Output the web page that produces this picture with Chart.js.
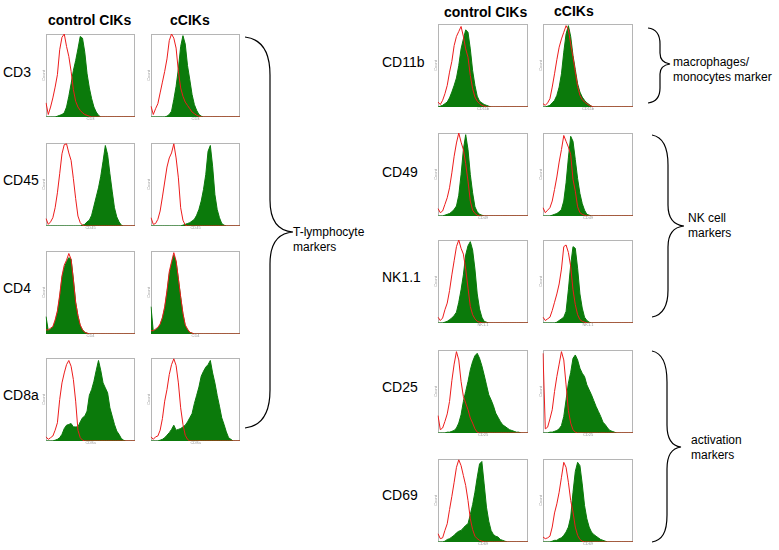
<!DOCTYPE html>
<html>
<head>
<meta charset="utf-8">
<title>control CIKs vs cCIKs - surface markers</title>
<script src="https://cdn.jsdelivr.net/npm/chart.js@4.4.1/dist/chart.umd.min.js"></script>
<style>
  body { margin: 0; background: #fff; width: 779px; height: 550px; position: relative; overflow: hidden;
         font-family: "Liberation Sans", Arial, sans-serif; color: #000; }
  .txt { position: absolute; white-space: nowrap; line-height: 1; transform: translateY(-50%); }
  .head { font-weight: bold; font-size: 14px; }
  .row { font-size: 14px; }
  .note { font-size: 12px; line-height: 15px; transform: translateY(-25%); }
  .panel { position: absolute; }
  svg { position: absolute; left: 0; top: 0; }
</style>
</head>
<body>

<script>
// HISTOGRAM BINS (log fluorescence channel, 40 bins)
const bins = [0,1,2,3,4,5,6,7,8,9,10,11,12,13,14,15,16,17,18,19,
              20,21,22,23,24,25,26,27,28,29,30,31,32,33,34,35,36,37,38,39];

// T-LYMPHOCYTE MARKERS (% of max count) - iso = isotype control (red), stain = marker (green)
const cd3CtrlIso    = [17,3,12,23,36,51,81,96,100,85,73,55,33,19,12,8,5,3,2,1, 0,0,0,0,0,0,0,0,0,0, 0,0,0,0,0,0,0,0,0,0];
const cd3CtrlStain  = [0,0,0,0,0,1,2,3,5,12,25,40,56,68,82,97,95,78,52,35, 22,12,6,2,0,0,0,0,0,0, 0,0,0,0,0,0,0,0,0,0];
const cd3CikIso     = [13,3,10,16,29,42,55,70,92,100,95,83,55,35,25,18,14,10,6,4, 2,1,0,0,0,0,0,0,0,0, 0,0,0,0,0,0,0,0,0,0];
const cd3CikStain   = [0,0,0,0,0,0,0,1,3,7,21,37,58,85,98,88,62,45,27,15, 8,3,1,0,0,0,0,0,0,0, 0,0,0,0,0,0,0,0,0,0];

const cd45CtrlIso   = [9,2,5,10,22,40,63,87,98,99,88,79,57,33,12,4,1,0,0,0, 0,0,0,0,0,0,0,0,0,0, 0,0,0,0,0,0,0,0,0,0];
const cd45CtrlStain = [0,0,0,0,0,0,0,0,0,0,0,0,0,0,0,0,1,2,5,7, 13,24,35,46,60,78,97,86,63,42, 22,11,5,1,0,0,0,0,0,0];
const cd45CikIso    = [10,2,3,8,18,35,53,71,82,88,99,82,58,22,7,1,0,0,0,0, 0,0,0,0,0,0,0,0,0,0, 0,0,0,0,0,0,0,0,0,0];
const cd45CikStain  = [0,0,0,0,0,0,0,0,0,0,0,0,0,0,1,2,3,4,6,8, 13,20,30,44,62,90,97,72,38,20, 10,3,1,0,0,0,0,0,0,0];

const cd4CtrlIso    = [5,5,7,9,17,28,47,70,83,89,97,90,65,38,22,11,5,2,1,0, 0,0,0,0,0,0,0,0,0,0, 0,0,0,0,0,0,0,0,0,0];
const cd4CtrlStain  = [21,4,6,8,15,26,44,68,80,87,92,90,66,38,22,10,5,2,1,0, 0,0,0,0,0,0,0,0,0,0, 0,0,0,0,0,0,0,0,0,0];
const cd4CikIso     = [4,4,6,8,12,20,33,52,75,87,98,88,67,45,25,11,6,2,1,0, 0,0,0,0,0,0,0,0,0,0, 0,0,0,0,0,0,0,0,0,0];
const cd4CikStain   = [33,3,5,7,11,19,31,50,72,85,95,87,66,44,24,10,5,2,1,0, 0,0,0,0,0,0,0,0,0,0, 0,0,0,0,0,0,0,0,0,0];

const cd8CtrlIso    = [5,2,4,6,13,22,50,70,82,92,97,90,74,48,13,4,1,0,0,0, 0,0,0,0,0,0,0,0,0,0, 0,0,0,0,0,0,0,0,0,0];
const cd8CtrlStain  = [0,0,0,0,1,2,4,8,15,19,20,21,17,17,17,23,28,30,36,55, 62,72,85,97,85,70,64,58,40,30, 20,12,8,3,1,0,0,0,0,0];
const cd8CikIso     = [5,2,5,6,13,27,48,62,80,92,99,91,70,40,20,7,2,0,0,0, 0,0,0,0,0,0,0,0,0,0, 0,0,0,0,0,0,0,0,0,0];
const cd8CikStain   = [0,0,0,0,1,2,4,7,10,14,19,13,14,15,17,19,23,28,33,45, 55,65,78,84,89,92,97,82,70,55, 42,28,20,11,4,2,0,0,0,0];

// MACROPHAGE / NK / ACTIVATION MARKERS
const cd11bCtrlIso   = [6,3,8,16,26,42,55,74,85,91,97,85,70,60,38,22,12,7,4,2, 1,0,0,0,0,0,0,0,0,0, 0,0,0,0,0,0,0,0,0,0];
const cd11bCtrlStain = [0,1,2,4,6,11,18,26,35,50,70,82,93,90,70,44,26,13,7,5, 3,2,1,0,0,0,0,0,0,0, 0,0,0,0,0,0,0,0,0,0];
const cd11bCikIso    = [4,2,5,10,24,40,57,72,82,90,98,93,76,60,42,25,14,9,6,4, 2,1,0,0,0,0,0,0,0,0, 0,0,0,0,0,0,0,0,0,0];
const cd11bCikStain  = [0,0,1,2,5,8,14,24,40,66,88,98,85,62,45,28,18,12,8,5, 3,1,0,0,0,0,0,0,0,0, 0,0,0,0,0,0,0,0,0,0];

const cd49CtrlIso    = [9,4,6,14,22,34,52,72,88,100,89,80,63,42,18,7,3,1,0,0, 0,0,0,0,0,0,0,0,0,0, 0,0,0,0,0,0,0,0,0,0];
const cd49CtrlStain  = [0,0,0,1,2,3,5,8,12,25,50,80,98,80,50,28,11,5,2,1, 0,0,0,0,0,0,0,0,0,0, 0,0,0,0,0,0,0,0,0,0];
const cd49CikIso     = [10,4,7,10,18,32,47,65,80,97,90,83,74,44,30,11,4,2,1,0, 0,0,0,0,0,0,0,0,0,0, 0,0,0,0,0,0,0,0,0,0];
const cd49CikStain   = [0,0,0,0,1,2,3,5,8,18,40,70,96,90,68,45,27,15,7,2, 1,0,0,0,0,0,0,0,0,0, 0,0,0,0,0,0,0,0,0,0];

const nk11CtrlIso    = [7,3,6,16,24,39,58,75,92,100,90,83,65,42,20,10,5,2,1,0, 0,0,0,0,0,0,0,0,0,0, 0,0,0,0,0,0,0,0,0,0];
const nk11CtrlStain  = [0,0,0,1,2,4,6,9,13,25,40,58,82,93,98,88,65,35,17,7, 2,1,0,0,0,0,0,0,0,0, 0,0,0,0,0,0,0,0,0,0];
const nk11CikIso     = [7,3,5,7,15,25,35,47,65,92,94,85,68,40,22,10,4,2,1,0, 0,0,0,0,0,0,0,0,0,0, 0,0,0,0,0,0,0,0,0,0];
const nk11CikStain   = [0,0,0,0,0,0,1,3,5,7,14,40,70,92,90,66,35,18,7,3, 1,0,0,0,0,0,0,0,0,0, 0,0,0,0,0,0,0,0,0,0];

const cd25CtrlIso    = [21,4,6,14,23,38,63,83,98,88,62,44,36,28,18,12,5,1,0,0, 0,0,0,0,0,0,0,0,0,0, 0,0,0,0,0,0,0,0,0,0];
const cd25CtrlStain  = [0,0,0,0,1,1,2,3,6,12,22,38,50,62,76,86,93,96,90,81, 70,58,46,40,33,24,19,14,10,8, 6,4,3,2,1,1,0,0,0,0];
const cd25CikIso     = [96,5,7,17,28,50,68,83,98,88,58,27,12,4,1,0,0,0,0,0, 0,0,0,0,0,0,0,0,0,0, 0,0,0,0,0,0,0,0,0,0];
const cd25CikStain   = [0,0,0,1,1,2,3,5,9,20,40,60,73,90,94,88,78,72,68,58, 52,46,39,32,26,20,13,10,6,3, 2,1,0,0,0,0,0,0,0,0];

const cd69CtrlIso    = [10,4,5,14,22,39,55,72,90,99,92,80,68,50,28,15,7,4,2,1, 0,0,0,0,0,0,0,0,0,0, 0,0,0,0,0,0,0,0,0,0];
const cd69CtrlStain  = [0,0,0,1,3,4,6,8,11,13,14,17,20,22,33,45,60,78,94,97, 70,42,25,14,9,7,6,3,2,1, 0,0,0,0,0,0,0,0,0,0];
const cd69CikIso     = [6,4,5,7,18,35,46,60,78,96,90,72,50,36,18,8,3,1,0,0, 0,0,0,0,0,0,0,0,0,0, 0,0,0,0,0,0,0,0,0,0];
const cd69CikStain   = [0,0,0,0,1,2,2,4,5,8,12,18,30,60,85,96,92,70,44,28, 18,12,9,7,5,3,2,1,0,0, 0,0,0,0,0,0,0,0,0,0];

// PANEL LAYOUT: marker, plot box left/top/width
const panels = [
    ['CD3',   46,  34, 89, cd3CtrlIso,   cd3CtrlStain],
    ['CD3',  151,  34, 89, cd3CikIso,    cd3CikStain],
    ['CD45',  46, 143, 89, cd45CtrlIso,  cd45CtrlStain],
    ['CD45', 151, 143, 89, cd45CikIso,   cd45CikStain],
    ['CD4',   46, 251, 89, cd4CtrlIso,   cd4CtrlStain],
    ['CD4',  151, 251, 89, cd4CikIso,    cd4CikStain],
    ['CD8a',  46, 358, 89, cd8CtrlIso,   cd8CtrlStain],
    ['CD8a', 151, 358, 89, cd8CikIso,    cd8CikStain],
    ['CD11b', 438,  24, 90, cd11bCtrlIso, cd11bCtrlStain],
    ['CD11b', 543,  24, 90, cd11bCikIso,  cd11bCikStain],
    ['CD49',  438, 133, 90, cd49CtrlIso,  cd49CtrlStain],
    ['CD49',  543, 133, 90, cd49CikIso,   cd49CikStain],
    ['NK1.1', 438, 240, 90, nk11CtrlIso,  nk11CtrlStain],
    ['NK1.1', 543, 240, 90, nk11CikIso,   nk11CikStain],
    ['CD25',  438, 350, 90, cd25CtrlIso,  cd25CtrlStain],
    ['CD25',  543, 350, 90, cd25CikIso,   cd25CikStain],
    ['CD69',  438, 459, 90, cd69CtrlIso,  cd69CtrlStain],
    ['CD69',  543, 459, 90, cd69CikIso,   cd69CikStain]
];
const plotHeight = 83;

// TEXT: [text, left, centerY, class]
const texts = [
    ['control CIKs', 48, 20, 'head'], ['cCIKs', 170, 20, 'head'],
    ['control CIKs', 444, 12, 'head'], ['cCIKs', 554, 11, 'head'],
    ['CD3', 3, 72, 'row'], ['CD45', 3, 180, 'row'], ['CD4', 3, 288, 'row'], ['CD8a', 3, 395, 'row'],
    ['CD11b', 382, 62, 'row'], ['CD49', 382, 172, 'row'], ['NK1.1', 382, 277, 'row'],
    ['CD25', 382, 387, 'row'], ['CD69', 382, 495, 'row'],
    ['T-lymphocyte<br>markers', 293, 232, 'note'],
    ['macrophages/<br>monocytes marker', 673, 62, 'note'],
    ['NK cell<br>markers', 688, 218, 'note'],
    ['activation<br>markers', 691, 440, 'note']
];

// frame around each plot box
const framePlugin = {
    id: 'frame',
    beforeDatasetsDraw(chart) {
        const a = chart.chartArea, ctx = chart.ctx;
        ctx.save();
        ctx.strokeStyle = '#b5b5b5';
        ctx.lineWidth = 1;
        ctx.strokeRect(Math.round(a.left) + 0.5, Math.round(a.top) + 0.5,
                       Math.round(a.right - a.left) - 1, Math.round(a.bottom - a.top) - 1);
        ctx.restore();
    }
};

function createHistogram(p){
    const [marker, left, top, w, iso, stain] = p;
    const div = document.createElement('div');
    div.className = 'panel';
    div.style.left = (left - 6) + 'px';
    div.style.top = (top - 2) + 'px';
    const canvas = document.createElement('canvas');
    canvas.width = w + 8;
    canvas.height = plotHeight + 8;
    div.appendChild(canvas);
    document.body.appendChild(div);

    new Chart(canvas.getContext('2d'), {
        type: 'line',
        data: {
            labels: bins,
            datasets: [{
                data: iso,
                borderColor: '#ec1c1c',
                borderWidth: 1,
                pointRadius: 0,
                fill: false,
                tension: 0,
                order: 0
            }, {
                data: stain,
                borderColor: '#0b7a0b',
                backgroundColor: '#0b7a0b',
                borderWidth: 1,
                pointRadius: 0,
                fill: 'origin',
                tension: 0,
                order: 1
            }]
        },
        options: {
            responsive: false,
            animation: false,
            devicePixelRatio: 1,
            layout: { padding: 2 },
            plugins: { legend: { display: false }, tooltip: { enabled: false } },
            scales: {
                x: {
                    grid: { display: false, drawTicks: false },
                    border: { display: false },
                    ticks: { display: false },
                    title: { display: true, text: marker, color: '#999', padding: 0,
                             font: { size: 4, lineHeight: 1 } }
                },
                y: {
                    min: 0, max: 100,
                    grid: { display: false, drawTicks: false },
                    border: { display: false },
                    ticks: { display: false },
                    title: { display: true, text: 'Count', color: '#999', padding: 0,
                             font: { size: 4, lineHeight: 1 } }
                }
            }
        },
        plugins: [framePlugin]
    });
}

panels.forEach(createHistogram);

texts.forEach(t => {
    const el = document.createElement('div');
    el.className = 'txt ' + t[3];
    el.innerHTML = t[0];
    el.style.left = t[1] + 'px';
    el.style.top = t[2] + 'px';
    document.body.appendChild(el);
});
</script>

<svg width="779" height="550" fill="none" stroke="#000" stroke-width="1.2">
  <path d="M245,37 C262,39 270,52 270,75 L270,200 C270,220 278,231 293,232 C278,233 270,244 270,264 L270,390 C270,413 262,426 245,428"/>
  <path d="M648,28 C656,29 660,34 660,44 L660,53 C660,59 663,63 670,64 C663,65 660,68 660,74 L660,88 C660,97 656,102 648,103"/>
  <path d="M652,135 C663,137 668,148 668,165 L668,205 C668,218 674,225 684,226 C674,227 668,234 668,247 L668,290 C668,306 663,315 652,317"/>
  <path d="M652,351 C662,353 667,364 667,382 L667,425 C667,439 672,446 681,447 C672,448 667,455 667,469 L667,515 C667,533 662,540 652,542"/>
</svg>
</body>
</html>
